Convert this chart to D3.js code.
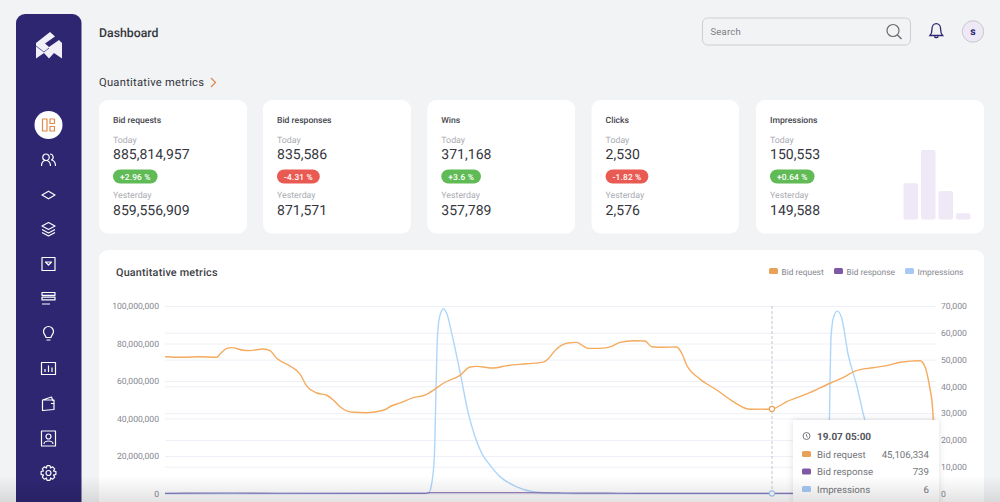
<!DOCTYPE html>
<html><head><meta charset="utf-8">
<script src="https://d3js.org/d3.v7.min.js"></script>
<style>html,body{margin:0;padding:0;background:#f2f3f5;overflow:hidden}svg{display:block;font-family:Roboto,sans-serif;text-rendering:geometricPrecision}</style>
</head><body><svg id="c" width="1000" height="502"></svg>
<script>
const kpiNames=["Bid requests","Bid responses","Wins","Clicks","Impressions"];
const kpiToday=["885,814,957","835,586","371,168","2,530","150,553"];
const kpiDelta=["+2.96 %","-4.31 %","+3.6 %","-1.82 %","+0.64 %"];
const kpiYesterday=["859,556,909","871,571","357,789","2,576","149,588"];
const miniBars=[52,100,41,9];
const leftTicks=[0,20e6,40e6,60e6,80e6,100e6];
const rightTicks=[0,10000,20000,30000,40000,50000,60000,70000];
const reqHours=[0,1.12,2.13,3.15,3.4,3.76,4.07,4.77,5.18,5.99,6.4,6.81,7.62,8.23,8.64,9.25,9.86,10.26,10.67,11.48,12.3,13.31,13.82,14.33,15.14,15.85,16.46,16.97,17.98,18.59,19,20.01,20.83,22.05,23.06,23.37,23.77,24.49,25.1,25.4,25.81,26.52,27.23,27.74,28.55,29.26,29.67,30.38,31.19,31.5,31.8,32.61,33.63,34.64,35.66,37,37.9,39.12,40.54,41.33,42.06,43.16,44,44.81,46.03,46.33,46.59,46.8,47];
const reqValues=[72.96,72.64,72.96,72.64,74.8,77.4,77.8,76.4,76.2,77.1,76.2,72.1,68,63.7,57.3,53.6,52.4,49.9,46.3,43.3,43.1,44.4,46.8,48.3,51.1,52.5,55.7,58.8,63,67.5,67.8,66.9,68.2,69.2,70.1,71.9,76.2,80.1,80.6,79.2,77.4,77.4,78.5,80.6,81.5,81.3,78.3,78,78.1,74.8,68.5,61.1,55.2,49,44.9,45.106334,49,53.1,58.8,61.8,65.3,67.1,68.2,70,70.8,67.6,57.9,44.5,0].map(v=>v*1e6);
const impHours=[0,16.05,16.26,16.42,16.52,16.6,16.72,16.97,17.21,17.48,17.98,18.49,18.9,19.31,19.81,20.42,21.44,22.43,23.47,25,37,40.29,40.48,40.54,40.6,40.74,40.98,41.25,41.65,42.16,42.61,43.1,44.2,45.4,47];
const impValues=[0,80,3800,13700,38600,57300,65400,69000,66600,59800,45500,29900,21200,15000,10600,6300,2500,670,190,20,6,0,20000,41700,58000,65500,68100,65500,51700,40500,28700,19000,8000,2500,0];
const respHours=[0,4,7,15.9,16.05,22,24,27,29,37,47];
const respValues=[60,180,90,60,330,330,200,130,60,60,40];
const seriesNames=["Bid request","Bid response","Impressions"];
const seriesColors=["#e9a158","#7e57a5","#a6c9f6"];
const tipTime="19.07 05:00";
const tipHour=37;
const tipValues=["45,106,334","739","6"];

const svg=d3.select("#c");
const ink="#34363d",muted="#a9abb2",axisInk="#85878f",violet="#2e2671";

svg.append("rect").attr("width",1000).attr("height",502).attr("fill","#f2f3f5");
svg.append("rect").attr("x",16).attr("y",14).attr("width",65.5).attr("height",520).attr("rx",9).attr("fill",violet);
svg.append("text").attr("x",99).attr("y",37).attr("font-size",12.3).attr("font-weight",500).attr("fill",ink).text("Dashboard");
svg.append("text").attr("x",99).attr("y",86).attr("font-size",11.2).attr("letter-spacing",.25).attr("fill",ink).text("Quantitative metrics");
svg.append("path").attr("d","M211 78l4.500 4.500-4.500 4.500").attr("fill","none").attr("stroke","#dd8a55").attr("stroke-width",1.3);

svg.append("rect").attr("x",702.5).attr("y",18).attr("width",208).attr("height",27).attr("rx",5).attr("fill","none").attr("stroke","#cdcfd3");
svg.append("text").attr("x",710.5).attr("y",35).attr("font-size",9.5).attr("letter-spacing",.2).attr("fill","#7c7e84").text("Search");
svg.append("circle").attr("cx",893).attr("cy",30.5).attr("r",6).attr("fill","none").attr("stroke","#6a6c70").attr("stroke-width",1.2);
svg.append("path").attr("d","M897.5 35l4 4").attr("stroke","#6a6c70").attr("stroke-width",1.4);
svg.append("path").attr("d","M930 35.5c1.800-2 2-3 2-6.500 0-3 1.800-5.300 4.300-5.300s4.300 2.300 4.300 5.300c0 3.500.2 4.500 2 6.500zM934.500 36.500c.3 1.500 3.300 1.500 3.600 0").attr("fill","none").attr("stroke",violet).attr("stroke-width",1.3);
svg.append("circle").attr("cx",973).attr("cy",31.5).attr("r",10.7).attr("fill","#efe8f7").attr("stroke","#c8c8cc");
svg.append("text").attr("x",973).attr("y",35).attr("text-anchor","middle").attr("font-size",10.5).attr("font-weight",700).attr("fill",violet).text("s");

svg.append("path").attr("d","M36 43L50 32l5 4.500-10 7 4 3.500 10-7 3 3v15.500l-8-5.500-5 5.500-5-5.500-8 5.500z").attr("fill","#f1eff7");
svg.append("path").attr("d","M36 46l8 6 5-4").attr("fill","none").attr("stroke",violet).attr("stroke-width",.7);
svg.append("circle").attr("cx",48.5).attr("cy",125).attr("r",14).attr("fill","#fff");
const ic=(y,d,col)=>svg.append("path").attr("transform",`translate(48.5,${y})`).attr("d",d).attr("fill","none").attr("stroke",col||"#fff").attr("stroke-width",1.2).attr("stroke-linejoin","round");
ic(125,"M-6-6h4.500v12h-4.500zM1.500-6h4.500v4.500h-4.500zM1.500 1.500h4.500v4.500h-4.500z","#e08a4c");
ic(160,"M-7 6c0-3.500 2-5.500 4.500-5.500S2 2.500 2 6M-2.500.5a3.200 3.200 0 1 0 0-6.500 3.200 3.200 0 0 0 0 6.500zM1.500-6a3.200 3.200 0 0 1 1.500 6c2.500.5 4 2.500 4 6");
ic(195,"M-6.500 0L0-3.800 6.500 0 0 3.800z");
ic(229.5,"M-6.500-3.500L0-7l6.500 3.500L0 0zM-6.500 0L0 3.500 6.500 0M-6.500 3L0 6.500 6.500 3");
ic(264,"M-6.500-6.500h13v13h-13zM-3-2h6L0 1z");
ic(298.5,"M-6.500-6h13v2.800h-13zM-6.500-1.400h13v2.800h-13zM-6.500 5.500h8");
ic(333.5,"M-2.500 4c0-2-2.500-3-2.500-6a5 5 0 0 1 10 0c0 3-2.500 4-2.500 6zM-2 6.500h4");
ic(368.5,"M-7-6h14v12h-14zM-3.500 3.500v-3M0 3.500v-6.500M3.500 3.500v-4.500");
ic(403.5,"M-6-3.500l9-3 1.500 4M-6-3.500h11.500v9.500l-11.500 1zM2.500 0h3");
ic(438.5,"M-7-7.500h14v15h-14zM0-4.500a2.500 2.500 0 1 1 0 5 2.500 2.500 0 0 1 0-5zM-4.500 5.500c0-4 9-4 9 0");
const gear=d3.range(8).map(i=>{const a=i*Math.PI/4,b=.32;const p=(r,t)=>`${(r*Math.cos(t)).toFixed(1)} ${(r*Math.sin(t)).toFixed(1)}`;return `${i?"L":"M"}${p(5.5,a-b*1.3)}L${p(7.5,a-b*.6)}L${p(7.5,a+b*.6)}L${p(5.5,a+b*1.3)}`}).join("")+"ZM2.500 0a2.500 2.500 0 1 1-5 0 2.500 2.500 0 0 1 5 0z";
ic(473,gear);

const cardX=[99,263,427.3,591.6,756],cardW=[148,148,147.7,147.4,228];
kpiNames.forEach((name,i)=>{
  const g=svg.append("g").attr("transform",`translate(${cardX[i]},100)`);
  g.append("rect").attr("width",cardW[i]).attr("height",133.5).attr("rx",9).attr("fill","#fff");
  const t=(y,s,size,col,w,ls)=>g.append("text").attr("x",14).attr("y",y).attr("font-size",size).attr("fill",col).attr("font-weight",w||400).attr("letter-spacing",ls||0).text(s);
  t(23,name,8.6,"#44464d",500);
  t(42.5,"Today",8.8,muted);
  t(59,kpiToday[i],14,ink,400,.02);
  const up=kpiDelta[i][0]==="+";
  const p=g.append("rect").attr("x",14).attr("y",69.5).attr("height",14).attr("rx",7).attr("fill",up?"#60bb56":"#e95b52");
  const pt=g.append("text").attr("y",80).attr("x",21).attr("font-size",8.4).attr("letter-spacing",.15).attr("fill","#fff").attr("font-weight",500).text(kpiDelta[i]);
  p.attr("width",pt.node().getComputedTextLength()+14);
  t(97.5,"Yesterday",8.8,muted);
  t(115,kpiYesterday[i],14,ink,400,.02);
});
const bx=d3.scaleBand().domain(d3.range(miniBars.length)).range([903.5,970.5]).paddingInner(.17).paddingOuter(0);
const by=d3.scaleLinear().domain([0,100]).range([219.5,150]);
svg.selectAll(".mini").data(miniBars).join("rect").attr("x",(d,i)=>bx(i)).attr("y",d=>by(d)).attr("width",bx.bandwidth()).attr("height",d=>by(0)-by(d)).attr("rx",2).attr("fill","#efe8f7");

svg.append("rect").attr("x",99).attr("y",250).attr("width",885).attr("height",280).attr("rx",9).attr("fill","#fff");
svg.append("text").attr("x",116).attr("y",276).attr("font-size",10.8).attr("font-weight",500).attr("letter-spacing",.2).attr("fill","#3c3e45").text("Quantitative metrics");
const legX=[769,834,905];
seriesNames.forEach((n,i)=>{
  svg.append("rect").attr("x",legX[i]).attr("y",268).attr("width",9).attr("height",6).attr("rx",1.5).attr("fill",seriesColors[i]);
  svg.append("text").attr("x",legX[i]+12.5).attr("y",274.5).attr("font-size",8.4).attr("fill",axisInk).text(n);
});

const x=d3.scaleLinear().domain([0,47]).range([165,936]);
const yL=d3.scaleLinear().domain([0,100e6]).range([493.5,306]);
const yR=d3.scaleLinear().domain([0,70000]).range([493.5,306]);
const styleAxis=g=>{g.select(".domain").remove();g.selectAll(".tick line").attr("stroke","#eef0f8").attr("stroke-width",1);g.selectAll(".tick text").attr("fill",axisInk).attr("font-size",8.6).attr("font-family","Roboto,sans-serif");};
svg.append("g").attr("transform","translate(165,0)").call(d3.axisLeft(yL).tickValues(leftTicks).tickFormat(d3.format(",")).tickSize(-771).tickPadding(6)).call(styleAxis);
svg.append("g").attr("transform","translate(936,0)").call(d3.axisRight(yR).tickValues(rightTicks).tickFormat(d3.format(",")).tickSize(-771).tickPadding(5)).call(styleAxis).selectAll(".tick text").attr("x",5).attr("text-anchor","start");

const curve=d3.curveMonotoneX;
const drawLine=(hs,vs,sc,col,w,op)=>svg.append("path").attr("d",d3.line().x((d,i)=>x(hs[i])).y(d=>sc(d)).curve(curve)(vs)).attr("fill","none").attr("stroke",col).attr("stroke-width",w).attr("stroke-opacity",op||1);
drawLine(impHours,impValues,yR,"#aed6fb",1.4);
drawLine(respHours,respValues,yR,"#7e57a5",1.2,.75);
drawLine(reqHours,reqValues,yL,"#f5aa5e",1.4);

svg.append("line").attr("x1",x(tipHour)).attr("x2",x(tipHour)).attr("y1",306).attr("y2",493.5).attr("stroke","#c4c6ca").attr("stroke-dasharray","3 2");
svg.append("circle").attr("cx",x(tipHour)).attr("cy",yL(reqValues[reqHours.indexOf(tipHour)])).attr("r",2.6).attr("fill","#fff").attr("stroke","#e9a158").attr("stroke-width",1.1);
svg.append("circle").attr("cx",x(tipHour)).attr("cy",yR(6)).attr("r",2.6).attr("fill","#fff").attr("stroke","#a6c9f6").attr("stroke-width",1.1);

const defs=svg.append("defs");
const f=defs.append("filter").attr("id","sh").attr("x","-20%").attr("y","-20%").attr("width","140%").attr("height","140%");
f.append("feDropShadow").attr("dx",0).attr("dy",0).attr("stdDeviation",3).attr("flood-color","#000").attr("flood-opacity",.13);
svg.append("rect").attr("x",793).attr("y",420).attr("width",146).attr("height",110).attr("rx",2).attr("fill","#fff").attr("filter","url(#sh)");
svg.append("circle").attr("cx",806.5).attr("cy",436).attr("r",3.5).attr("fill","none").attr("stroke","#66686d").attr("stroke-width",.9);
svg.append("path").attr("d","M806.5 434v2.300l1.500 1").attr("fill","none").attr("stroke","#66686d").attr("stroke-width",.8);
svg.append("text").attr("x",817).attr("y",440).attr("font-size",10).attr("font-weight",700).attr("fill","#55575c").text(tipTime);
const rowY=[457.5,475,492.5];
seriesNames.forEach((n,i)=>{
  svg.append("rect").attr("x",802).attr("y",rowY[i]-6.5).attr("width",9).attr("height",6).attr("rx",1.5).attr("fill",seriesColors[i]);
  svg.append("text").attr("x",817).attr("y",rowY[i]).attr("font-size",9.7).attr("fill","#74767c").text(n);
  svg.append("text").attr("x",929).attr("y",rowY[i]).attr("text-anchor","end").attr("font-size",9.7).attr("fill","#74767c").text(tipValues[i]);
});

const gr=defs.append("linearGradient").attr("id","fade").attr("x1",0).attr("y1",0).attr("x2",0).attr("y2",1);
gr.append("stop").attr("offset",0).attr("stop-color","#000").attr("stop-opacity",0);
gr.append("stop").attr("offset",1).attr("stop-color","#000").attr("stop-opacity",.11);
svg.append("rect").attr("x",0).attr("y",476).attr("width",1000).attr("height",26).attr("fill","url(#fade)").attr("pointer-events","none");
</script></body></html>
